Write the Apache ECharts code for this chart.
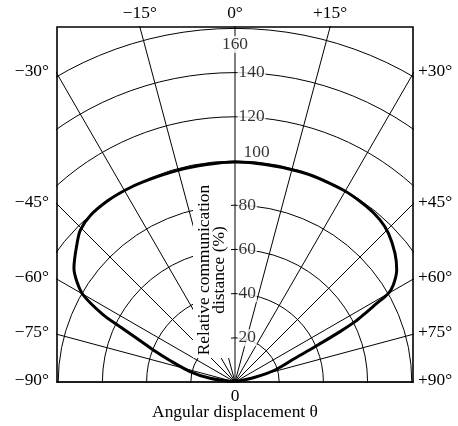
<!DOCTYPE html>
<html>
<head>
<meta charset="utf-8">
<script src="https://cdn.jsdelivr.net/npm/echarts@6/dist/echarts.min.js"></script>
<style>
html,body{margin:0;padding:0;background:#fff;}
#main{width:458px;height:426px;}
</style>
</head>
<body>
<div id="main"></div>
<script>
// curve: angle (deg from 0°) and relative distance (%)
var curveAngles = [-90, -81.6, -76.9, -71.7, -68.6, -66.0, -64.3, -63.0, -60.2, -57.6, -54.7, -48.7, -45.5, -40.9, -35.1, -29.7, -24.5, -15.4, -7.4, 0,
                   17.2, 29.4, 36.9, 41.8, 45.9, 51.2, 55.3, 58.5, 60.0, 61.0, 62.4, 63.3, 64.4, 66.2, 68.4, 73.3, 76.8, 90];
var curveRadii  = [0, 11.4, 20.9, 31.0, 39.7, 48.7, 57.7, 66.9, 79.1, 84.7, 89.3, 95.1, 98.1, 99.8, 100.2, 100.0, 99.6, 99.2, 99.2, 99.5,
                   99.6, 99.7, 99.2, 98.4, 96.7, 92.9, 89.0, 84.0, 80.1, 73.3, 65.5, 60.8, 52.5, 39.5, 29.2, 18.9, 9.3, 0];

var radialTicks = [20, 40, 60, 80, 100, 120, 140, 160];
var angleTicks  = [-90, -75, -60, -45, -30, -15, 0, 15, 30, 45, 60, 75, 90];
var angleLabels = ['−90°', '−75°', '−60°', '−45°', '−30°', '−15°', '0°', '+15°', '+30°', '+45°', '+60°', '+75°', '+90°'];
var yTitle = ['Relative communication', 'distance (%)'];
var xTitle = 'Angular displacement θ';
var originLabel = '0';

var FAMILY = '"Liberation Serif", "Times New Roman", serif';
var FONT = '17.4px ' + FAMILY;
var O = [235, 382];      // pole, px
var R160 = 353.6;        // px radius of the 160 ring
var box = {l: 57, t: 27, r: 413, b: 382};

var myChart = echarts.init(document.getElementById('main'));

function txt(x, y, s, align, rot) {
    return {
        type: 'text', x: x, y: y, z: 10, rotation: rot || 0,
        style: {text: s, font: FONT, fill: '#000', align: align || 'center', verticalAlign: 'middle',
                textAlign: align || 'center', textVerticalAlign: 'middle'}
    };
}
function rect(x, y, w, h) {
    return {type: 'rect', z: 5, shape: {x: x, y: y, width: w, height: h}, style: {fill: '#fff'}};
}

// angle labels sit where each ray leaves the frame
var angleText = angleTicks.map(function (a, i) {
    var rad = a * Math.PI / 180;
    if (Math.abs(a) <= 15) {
        return txt(O[0] + (O[1] - box.t) * Math.tan(rad), box.t - 14, angleLabels[i], 'center');
    }
    var hw = a < 0 ? O[0] - box.l : box.r - O[0];
    var y = O[1] - hw / Math.tan(Math.abs(rad)) - 2;
    return a < 0 ? txt(box.l - 8, y, angleLabels[i], 'right') : txt(box.r + 5, y, angleLabels[i], 'left');
});

var graphics = [
    rect(0, 0, box.l - 1, 426),
    rect(box.r + 1, 0, 458 - box.r, 426),
    rect(0, 0, 458, box.t - 1),
    rect(0, box.b + 1, 458, 426 - box.b),
    rect(193, 180, 38, 178),
    {type: 'rect', z: 6, shape: {x: box.l, y: box.t, width: box.r - box.l, height: box.b - box.t},
     style: {fill: 'none', stroke: '#000', lineWidth: 1.6}},
    txt(204, 270, yTitle[0], 'center', Math.PI / 2),
    txt(219.5, 270, yTitle[1], 'center', Math.PI / 2),
    txt(O[0], 396, originLabel, 'center'),
    txt(O[0], 412, xTitle, 'center')
].concat(angleText);

var tickData = radialTicks.map(function (r) {
    if (r === 160) return {value: [r, 0], label: {position: 'bottom', distance: 7}};
    if (r === 100) return {value: [r, 0], label: {position: 'right', distance: 7, offset: [0, -9]}};
    return {value: [r, 0]};
});

var option = {
    animation: false,
    polar: [
        {center: O, radius: R160},
        {center: O, radius: 560}
    ],
    angleAxis: [
        {polarIndex: 0, type: 'value', min: -180, max: 180, startAngle: 270, clockwise: true,
         axisLine: {show: false}, axisTick: {show: false}, axisLabel: {show: false}, splitLine: {show: false}},
        {polarIndex: 1, type: 'value', min: -180, max: 180, interval: 15, startAngle: 270, clockwise: true,
         axisLine: {show: false}, axisTick: {show: false}, axisLabel: {show: false},
         splitLine: {show: true, lineStyle: {color: '#000', width: 1}}}
    ],
    radiusAxis: [
        {polarIndex: 0, type: 'value', min: 0, max: 160, interval: 20,
         axisLine: {show: false}, axisTick: {show: false}, axisLabel: {show: false},
         splitLine: {show: true, lineStyle: {color: '#000', width: 1}}},
        {polarIndex: 1, type: 'value', min: 0, max: 1,
         axisLine: {show: false}, axisTick: {show: false}, axisLabel: {show: false}, splitLine: {show: false}}
    ],
    series: [
        {
            type: 'line', coordinateSystem: 'polar', polarIndex: 0,
            data: curveAngles.map(function (a, i) { return [curveRadii[i], a]; }),
            smooth: 0.3, symbol: 'none', silent: true,
            lineStyle: {color: '#000', width: 3}
        },
        {
            type: 'scatter', coordinateSystem: 'polar', polarIndex: 0,
            data: tickData, symbolSize: 1, silent: true,
            itemStyle: {color: 'rgba(0,0,0,0)'},
            label: {
                show: true, position: 'right', distance: 2,
                formatter: function (p) { return String(p.value[0]); },
                fontFamily: FAMILY, fontSize: 17.4, color: '#000',
                backgroundColor: '#fff', padding: [0, 1]
            }
        }
    ],
    graphic: graphics
};

myChart.setOption(option);
</script>
</body>
</html>
